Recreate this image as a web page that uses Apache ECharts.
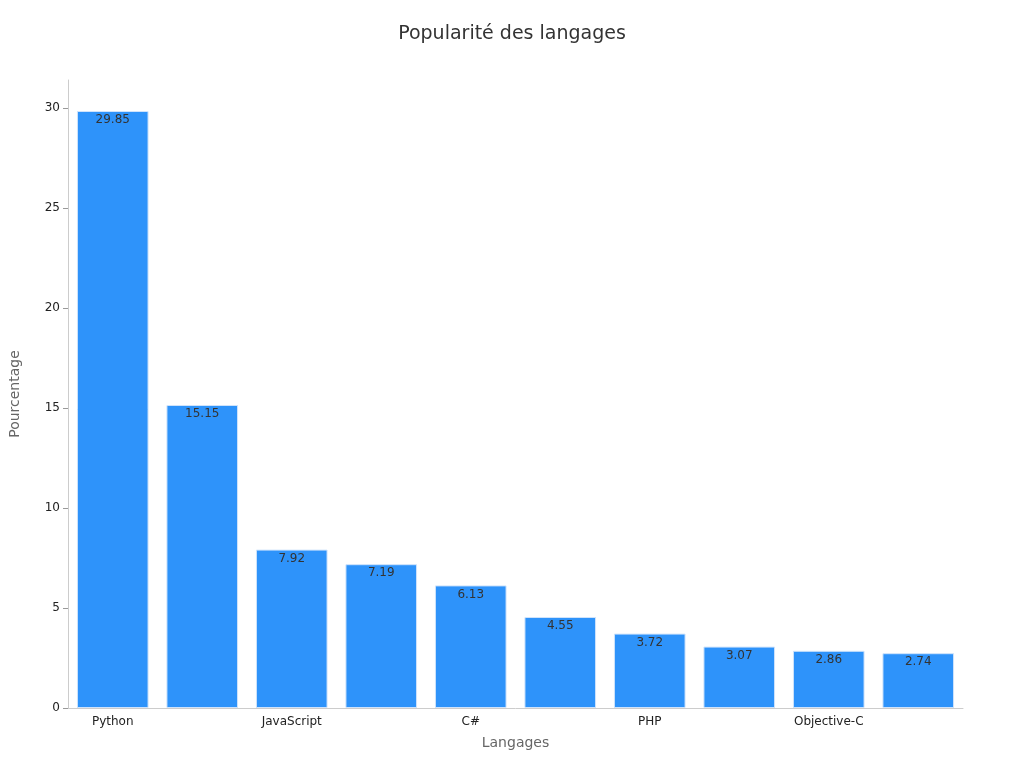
<!DOCTYPE html>
<html><head><meta charset="utf-8">
<script src="https://cdn.jsdelivr.net/npm/echarts@6/dist/echarts.min.js"></script>
<style>html,body{margin:0;padding:0;background:#fff}#c{width:1024px;height:768px}</style>
</head><body><div id="c"></div>
<script>
const categories = ["Python","Java","JavaScript","C/C++","C#","R","PHP","Rust","Objective-C","TypeScript"];
const values = [29.85,15.15,7.92,7.19,6.13,4.55,3.72,3.07,2.86,2.74];
const chart = echarts.init(document.getElementById('c'));
const font = "DejaVu Sans";
chart.setOption({
  backgroundColor:'#fff',
  textStyle:{fontFamily:font},
  title:{text:'Popularité des langages',left:'center',top:20,textStyle:{fontFamily:font,fontSize:19,fontWeight:'normal',color:'#333'}},
  grid:{left:60,right:61,top:80,bottom:60},
  xAxis:{type:'category',data:categories,name:'Langages',nameLocation:'middle',nameGap:28,
    nameTextStyle:{fontSize:14,color:'#666'},
    axisLine:{lineStyle:{color:'#ccc'}},axisTick:{alignWithLabel:true,lineStyle:{color:'#999'}},
    axisLabel:{color:'#222',fontSize:12}},
  yAxis:{type:'value',min:0,max:31.4,interval:5,name:'Pourcentage',nameLocation:'middle',nameGap:46,
    nameTextStyle:{fontSize:14,color:'#666'},
    axisLine:{show:true,lineStyle:{color:'#ccc'}},axisTick:{show:true,lineStyle:{color:'#999'}},
    axisLabel:{color:'#222',fontSize:12,showMaxLabel:false},splitLine:{show:false}},
  series:[{type:'bar',data:values,barWidth:'80%',
    itemStyle:{color:'#2E93FA',borderColor:'#cfe3fb',borderWidth:1},
    label:{show:true,position:'insideTop',color:'#333',fontSize:12,offset:[0,-2]}}]
});
</script></body></html>
